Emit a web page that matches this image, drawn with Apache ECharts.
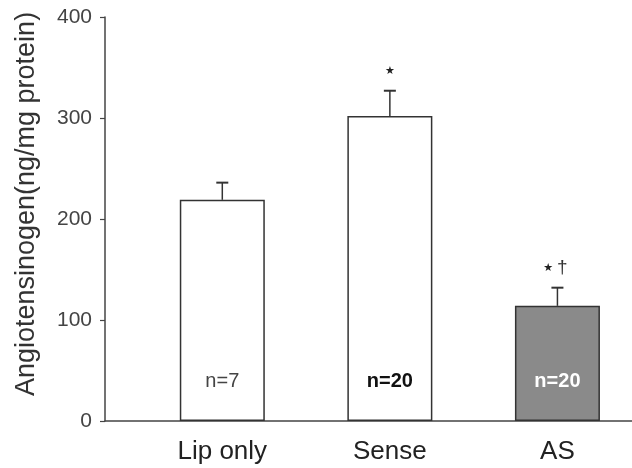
<!DOCTYPE html>
<html>
<head>
<meta charset="utf-8">
<script src="https://cdn.jsdelivr.net/npm/echarts@6/dist/echarts.min.js"></script>
<style>
  html, body { margin: 0; padding: 0; background: #fff; }
  #chart { width: 632px; height: 468px; }
</style>
</head>
<body>
<div id="chart"></div>
<script>
// Groups, mean angiotensinogen and SEM
const categories = ['Lip only', 'Sense', 'AS'];
const means = [219, 302, 114];
const sems = [17, 25, 18];
const nLabels = ['n=7', 'n=20', 'n=20'];
const sigMarks = ['', '{s|\u2605}', '{s|\u2605} {d|\u2020}'];
const yTicks = [0, 100, 200, 300, 400];
const yTitle = 'Angiotensinogen(ng/mg protein)';

const positions = categories.map((_, i) => i + 1);
const fills = ['#ffffff', '#ffffff', '#8a8a8a'];
const nStyles = [
  { color: '#444', fontWeight: 'normal' },
  { color: '#111', fontWeight: 'bold' },
  { color: '#ffffff', fontWeight: 'bold' }
];
const FONT = 'Liberation Sans, Arial, sans-serif';

const chart = echarts.init(document.getElementById('chart'), null, { renderer: 'canvas' });

const barData = positions.map((p, i) => ({
  value: [p, means[i]],
  itemStyle: { color: fills[i] },
  label: {
    show: true,
    position: 'insideBottom',
    distance: 30,
    formatter: nLabels[i],
    fontSize: 20,
    fontFamily: FONT,
    color: nStyles[i].color,
    fontWeight: nStyles[i].fontWeight
  }
}));

chart.setOption({
  animation: false,
  backgroundColor: '#ffffff',
  grid: { left: 105, right: 0, top: 17, bottom: 47, containLabel: false, outerBoundsMode: 'none' },
  graphic: [
    {
      type: 'text',
      x: 27,
      y: 204,
      rotation: Math.PI / 2,
      style: {
        text: yTitle,
        fontSize: 27,
        fill: '#333',
        fontFamily: FONT,
        align: 'center',
        verticalAlign: 'middle'
      }
    }
  ],
  xAxis: {
    type: 'value',
    min: 0.3,
    max: 3.445,
    splitLine: { show: false },
    axisLine: { show: true, lineStyle: { color: '#444', width: 1.5 } },
    axisTick: { show: false },
    axisLabel: {
      customValues: positions,
      formatter: v => categories[Math.round(v) - 1] || '',
      fontSize: 26,
      color: '#222',
      margin: 18,
      fontFamily: FONT
    }
  },
  yAxis: {
    type: 'value',
    min: 0,
    max: 400,
    interval: 100,
    splitLine: { show: false },
    axisLine: { show: true, lineStyle: { color: '#444', width: 1.5 } },
    axisTick: { show: true, length: 5, lineStyle: { color: '#444', width: 1.2 } },
    axisLabel: {
      fontSize: 21,
      color: '#444',
      margin: 13,
      fontFamily: FONT,
      formatter: v => (yTicks.indexOf(v) >= 0 ? String(v) : '')
    }
  },
  series: [
    {
      type: 'bar',
      barWidth: 85,
      data: barData,
      itemStyle: { borderColor: '#333', borderWidth: 1.5 }
    },
    {
      // SEM whiskers with caps plus significance marks
      type: 'custom',
      data: positions.map((p, i) => [p, means[i], means[i] + sems[i], i]),
      renderItem: function (params, api) {
        const x = api.value(0);
        const base = api.coord([x, api.value(1)]);
        const top = api.coord([x, api.value(2)]);
        const idx = api.value(3);
        const children = [
          {
            type: 'line',
            shape: { x1: base[0], y1: base[1], x2: top[0], y2: top[1] },
            style: { stroke: '#333', lineWidth: 1.5 }
          },
          {
            type: 'line',
            shape: { x1: top[0] - 6, y1: top[1], x2: top[0] + 6, y2: top[1] },
            style: { stroke: '#333', lineWidth: 2 }
          }
        ];
        if (sigMarks[idx]) {
          children.push({
            type: 'text',
            x: top[0] - (idx === 2 ? 2 : 0),
            y: top[1] - 20,
            style: {
              text: sigMarks[idx],
              fill: '#222',
              align: 'center',
              verticalAlign: 'middle',
              fontFamily: 'DejaVu Sans, sans-serif',
              rich: {
                s: { fontSize: 11, fill: '#222', fontFamily: 'DejaVu Sans, sans-serif' },
                d: { fontSize: 19, fill: '#333', fontFamily: FONT }
              }
            }
          });
        }
        return { type: 'group', children: children };
      },
      z: 3
    }
  ]
});
</script>
</body>
</html>
